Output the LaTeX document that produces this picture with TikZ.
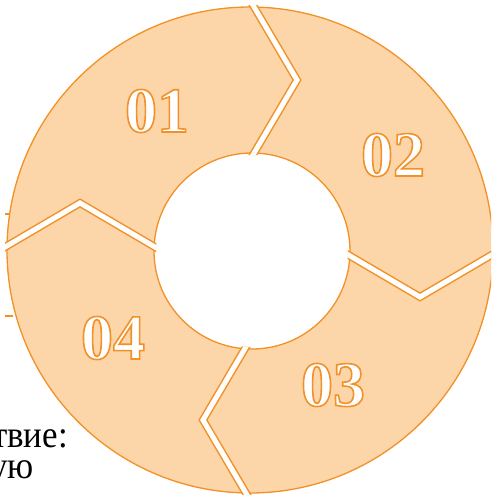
\documentclass[tikz,border=0pt]{standalone}
\usepackage{fontspec}
\setmainfont{Liberation Serif}
\usetikzlibrary{positioning}
\definecolor{ringfill}{RGB}{252,213,168}
\definecolor{ringline}{RGB}{242,145,40}
\newcommand{\hollownum}[1]{\special{pdf:literal direct 2 Tr 1.6 w 0.949 0.569 0.157 RG}#1\special{pdf:literal direct 0 Tr}}

\begin{document}
\begin{tikzpicture}[x=1pt,y=-1pt,
    gapedge/.style={ringline,line width=8pt,miter limit=20},
    gapcut/.style={white,line width=5pt,miter limit=20},
    numtext/.style={font=\fontsize{64}{64}\selectfont\bfseries,text=white,inner sep=0pt},
    bodytext/.style={font=\fontsize{38}{38}\selectfont,inner sep=0pt,anchor=base east}]
    \useasboundingbox (0,0) rectangle (491,495);
    \clip (0,0) rectangle (491,495);
    % text behind the ring
    \node[bodytext] (line1) at (68,447) {\scalebox{0.92}[1]{твие:}};
    \node[bodytext] (line2) at (34,478) {\scalebox{0.92}[1]{ую}};
    \draw[ringline,line width=1.3pt] (5,214) -- (13,214);
    \draw[ringline,line width=1.3pt] (5,316) -- (13,316);
    % ring
    \fill[ringfill,even odd rule] (250,250) circle (243) (252,251) circle (98);
    \draw[ringline,line width=1.3pt] (250,250) circle (243);
    \draw[ringline,line width=1.3pt] (252,251) circle (98);
    % chevron cuts (y axis points down, so angles run clockwise)
    \begin{scope}[even odd rule]
        \clip (250,250) circle (245) (252,251) circle (96);
        \foreach \a in {-90,0,90,180} {
            \draw[gapedge,shift={(250,250)}] (\a:250) -- ([shift={(\a+90:47)}]\a:170) -- (\a:90);
            \draw[gapcut,shift={(250,250)}] (\a:250) -- ([shift={(\a+90:47)}]\a:170) -- (\a:90);
        }
    \end{scope}
    % numbers
    \node[numtext] (n01) at (157,111) {\hollownum{01}};
    \node[numtext] (n02) at (393,155) {\hollownum{02}};
    \node[numtext] (n03) at (333,385) {\hollownum{03}};
    \node[numtext] (n04) at (113,338) {\hollownum{04}};
\end{tikzpicture}
\end{document}
